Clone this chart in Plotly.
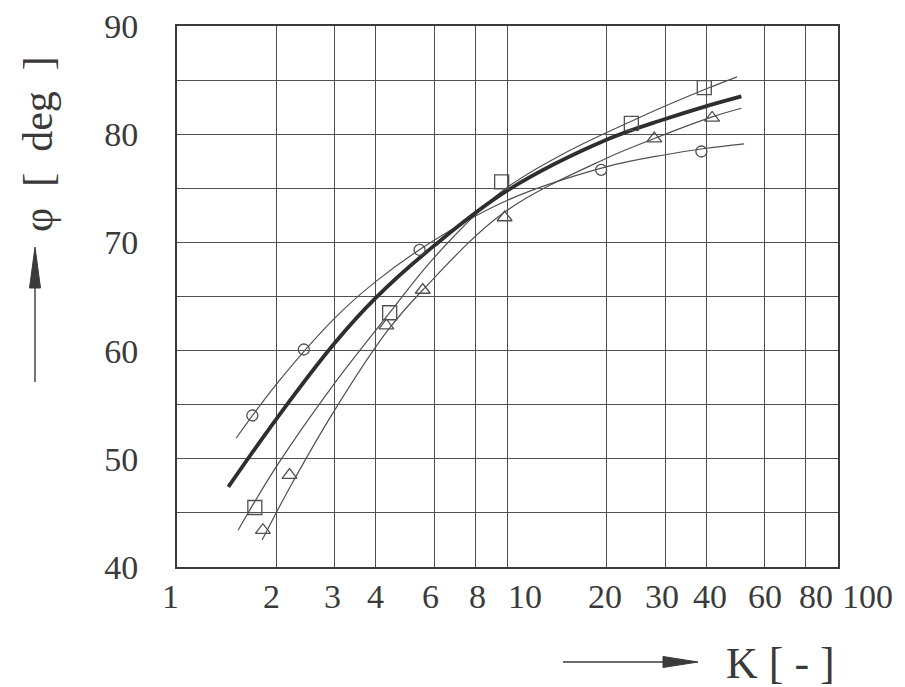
import math
import plotly.graph_objects as go

# ---- data ----
x_tick_vals = [1, 2, 3, 4, 6, 8, 10, 20, 30, 40, 60, 80, 100]
x_tick_text = ["1", "2", "3", "4", "6", "8", "10", "20", "30", "40", "60", "80", "100"]
x_label_shift = [-7, -5, -2, 0, -4, 2, 17, -2, -3, 4, 0, 10, 29]   # label offsets (px) as printed
y_tick_vals = [40, 45, 50, 55, 60, 65, 70, 75, 80, 85, 90]
y_tick_text = ["40", "", "50", "", "60", "", "70", "", "80", "", "90"]

# measured points
K_circle = [1.69, 2.42, 5.42, 19.2, 38.6]
phi_circle = [54.0, 60.1, 69.3, 76.7, 78.4]
K_square = [1.72, 4.40, 9.6, 23.7, 39.4]
phi_square = [45.5, 63.5, 75.6, 81.0, 84.3]
K_tri = [1.82, 2.19, 4.3, 5.54, 9.8, 27.8, 41.6]
phi_tri = [43.4, 48.5, 62.3, 65.6, 72.3, 79.6, 81.5]

# fitted curves
K_fit_circle = [1.51, 2, 3, 4, 6, 10, 20, 30, 40, 52]
phi_fit_circle = [51.9, 56.9, 63.0, 66.4, 70.2, 73.9, 77.0, 78.1, 78.7, 79.1]
K_fit_square = [1.53, 2, 3, 4.4, 6, 9.6, 15, 23.7, 30, 40, 49.5]
phi_fit_square = [43.4, 49.3, 57.0, 63.5, 68.6, 74.7, 78.3, 81.2, 82.6, 84.2, 85.3]
K_fit_tri = [1.81, 2.19, 3, 4.3, 5.54, 9.8, 20, 27.8, 41.6, 51]
phi_fit_tri = [42.5, 47.3, 54.5, 61.7, 65.6, 72.8, 77.8, 79.6, 81.6, 82.4]
K_fit_mean = [1.43, 2, 3, 4, 6, 10, 20, 30, 40, 51]
phi_fit_mean = [47.4, 53.7, 60.7, 64.9, 69.7, 74.8, 79.5, 81.4, 82.6, 83.5]

FONT = "Liberation Serif"
INK = "#3a3a3a"
LINE = "#505050"

# plot-area pixel box (for placing decorations in paper coords)
L, R, T, B = 177, 838, 26, 567
def px(x): return (x - L) / (R - L)
def py(y): return (B - y) / (B - T)

fig = go.Figure()

def fit(xs, ys, w, c):
    fig.add_trace(go.Scatter(x=xs, y=ys, mode="lines",
                             line=dict(color=c, width=w, shape="spline", smoothing=1.0),
                             showlegend=False, hoverinfo="skip"))

fit(K_fit_circle, phi_fit_circle, 1.2, LINE)
fit(K_fit_square, phi_fit_square, 1.2, LINE)
fit(K_fit_tri, phi_fit_tri, 1.2, LINE)
fit(K_fit_mean, phi_fit_mean, 3.8, "#2e2e2e")

def pts(xs, ys, sym, size):
    fig.add_trace(go.Scatter(x=xs, y=ys, mode="markers",
                             marker=dict(symbol=sym, size=size, color=LINE,
                                         line=dict(color=LINE, width=1.3)),
                             showlegend=False))

pts(K_circle, phi_circle, "circle-open", 11)
pts(K_square, phi_square, "square-open", 14)
pts(K_tri, phi_tri, "triangle-up-open", 13)

# axis-title arrows drawn as shapes (paper coords)
shapes = []
shapes.append(dict(type="line", xref="paper", yref="paper",
                   x0=px(35), x1=px(35), y0=py(382), y1=py(280),
                   line=dict(color=INK, width=1.4)))
shapes.append(dict(type="path", xref="paper", yref="paper",
                   path=f"M {px(35)},{py(247)} L {px(29.5)},{py(288)} L {px(40.5)},{py(288)} Z",
                   fillcolor=INK, line=dict(color=INK, width=1)))
shapes.append(dict(type="line", xref="paper", yref="paper",
                   x0=px(563), x1=px(668), y0=py(662), y1=py(662),
                   line=dict(color=INK, width=1.4)))
shapes.append(dict(type="path", xref="paper", yref="paper",
                   path=f"M {px(698)},{py(662)} L {px(663)},{py(656.5)} L {px(663)},{py(667.5)} Z",
                   fillcolor=INK, line=dict(color=INK, width=1)))

fig.add_annotation(xref="paper", yref="paper", x=px(38), y=py(144),
                   xanchor="center", yanchor="middle",
                   text="φ\u00a0\u00a0[\u00a0\u00a0deg\u00a0\u00a0]", textangle=-90, showarrow=False,
                   font=dict(family=FONT, size=42, color=INK))
fig.add_annotation(xref="paper", yref="paper", x=px(780), y=py(663),
                   xanchor="center", yanchor="middle",
                   text="K\u00a0[\u00a0-\u00a0]", showarrow=False,
                   font=dict(family=FONT, size=44, color=INK))

# x tick labels, placed at their log-axis positions
for v, t, s in zip(x_tick_vals, x_tick_text, x_label_shift):
    fig.add_annotation(xref="paper", yref="paper", x=math.log10(v) / 2.0, y=py(596),
                       xanchor="center", yanchor="middle", xshift=s,
                       text=t, showarrow=False,
                       font=dict(family=FONT, size=34, color=INK))

fig.update_layout(
    width=905, height=687,
    margin=dict(l=L, r=905 - R, t=T, b=687 - B),
    plot_bgcolor="white", paper_bgcolor="white",
    shapes=shapes,
    xaxis=dict(type="log", range=[0, 2], tickvals=x_tick_vals, showticklabels=False,
               automargin=False,
               showgrid=True, gridcolor=LINE, gridwidth=1.4, zeroline=False,
               showline=True, mirror=True, linecolor=INK, linewidth=2, ticks=""),
    yaxis=dict(range=[40, 90], tickvals=y_tick_vals, ticktext=y_tick_text,
               automargin=False,
               showgrid=True, gridcolor=LINE, gridwidth=1.4, zeroline=False,
               showline=True, mirror=True, linecolor=INK, linewidth=2,
               ticks="", ticklabelstandoff=30,
               tickfont=dict(family=FONT, size=34, color=INK)),
)

fig.write_html("out.html")
